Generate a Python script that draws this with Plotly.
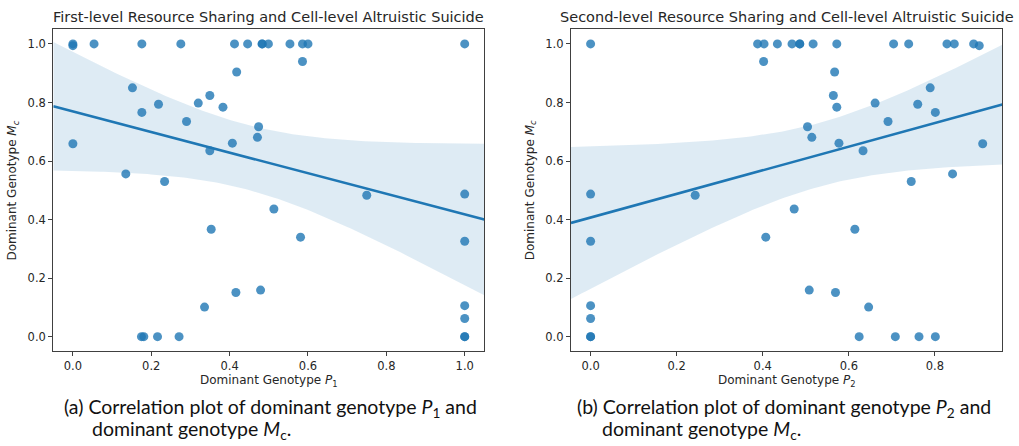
import numpy as np
import plotly.graph_objects as go

# Panel (a): dominant genotype P1 vs dominant genotype Mc
p1 = [0, 0, 0.054, 0.176, 0.2755, 0.4125, 0.446, 0.483, 0.483, 0.499, 0.554, 0.586, 0.600, 1.0,
      0.586, 0.418, 0.152, 0.176, 0.2185, 0.320, 0.3495, 0.383, 0.290, 0.474, 0.471, 0.407,
      0.3495, 0, 0.135, 0.234, 0.75, 1.0, 0.513, 0.353, 0.581, 1.0, 0.336, 0.416, 0.479,
      1.0, 1.0,
      0.175, 0.181, 0.216, 0.271, 1.0, 1.0]
mc1 = [1.0, 0.994, 1.0, 1.0, 1.0, 1.0, 1.0, 1.0, 1.0, 1.0, 1.0, 1.0, 1.0, 1.0,
       0.940, 0.904, 0.850, 0.766, 0.794, 0.798, 0.824, 0.784, 0.735, 0.717, 0.681, 0.661,
       0.635, 0.659, 0.556, 0.530, 0.483, 0.487, 0.436, 0.367, 0.340, 0.326, 0.101, 0.151, 0.159,
       0.106, 0.062,
       0, 0, 0, 0, 0, 0]

# Panel (b): dominant genotype P2 vs dominant genotype Mc
p2 = [0, 0.388, 0.403, 0.434, 0.468, 0.486, 0.486, 0.517, 0.572, 0.704, 0.739, 0.828, 0.845, 0.890, 0.903,
      0.402, 0.567, 0.789, 0.801, 0.760, 0.661, 0.564, 0.572, 0.691, 0.504, 0.514, 0.577,
      0.633, 0.911, 0.841, 0.745, 0.243, 0, 0.473, 0.614, 0.407, 0, 0.646, 0.569, 0.508,
      0, 0,
      0.624, 0.708, 0.763, 0.801, 0, 0]
mc2 = [1.0, 1.0, 1.0, 1.0, 1.0, 1.0, 1.0, 1.0, 1.0, 1.0, 1.0, 1.0, 1.0, 1.0, 0.994,
       0.940, 0.904, 0.850, 0.766, 0.794, 0.798, 0.824, 0.784, 0.735, 0.717, 0.681, 0.661,
       0.635, 0.659, 0.556, 0.530, 0.483, 0.487, 0.436, 0.367, 0.340, 0.326, 0.101, 0.151, 0.159,
       0.106, 0.062,
       0, 0, 0, 0, 0, 0]

titles = ["First-level Resource Sharing and Cell-level Altruistic Suicide",
          "Second-level Resource Sharing and Cell-level Altruistic Suicide"]
xlabels = ["Dominant Genotype <i>P</i><sub>1</sub>", "Dominant Genotype <i>P</i><sub>2</sub>"]
ylabel = "Dominant Genotype <i>M</i><sub><i>c</i></sub>"
caption_first = ["(a) Correlation plot of dominant genotype <i>P</i><sub>1</sub> and",
                 "(b) Correlation plot of dominant genotype <i>P</i><sub>2</sub> and"]
caption_second = "dominant genotype <i>M</i><sub>c</sub>."

BLUE = "#1f77b4"
TEXT = "#262626"
TICK_FONT = dict(family="DejaVu Sans", size=11.5, color=TEXT)

W, H = 1019, 446
# plot-area boxes in pixels: (left, right)
xboxes = [(53.3, 484.3), (571.0, 1002.3)]
ytop, ybot = 29.3, 351.3
caption_x = [(62, 90), (575, 600)]


def fit_band(x, y, lo, hi, n=120):
    x = np.asarray(x, float)
    y = np.asarray(y, float)
    b, a = np.polyfit(x, y, 1)
    grid = np.linspace(lo, hi, n)
    pred = a + b * grid
    resid = y - (a + b * x)
    dof = len(x) - 2
    s = np.sqrt(np.sum(resid ** 2) / dof)
    sxx = np.sum((x - x.mean()) ** 2)
    se = s * np.sqrt(1.0 / len(x) + (grid - x.mean()) ** 2 / sxx)
    tval = 2.1
    return grid, pred, pred - tval * se, pred + tval * se


def padded(vals):
    lo, hi = min(vals), max(vals)
    m = 0.05 * (hi - lo)
    return lo - m, hi + m


fig = go.Figure()
panels = [(p1, mc1), (p2, mc2)]
for i, (xs, ys) in enumerate(panels):
    xa = "x" if i == 0 else "x2"
    ya = "y" if i == 0 else "y2"
    xr = padded(xs)
    grid, pred, lower, upper = fit_band(xs, ys, xr[0], xr[1])
    fig.add_trace(go.Scatter(
        x=np.concatenate([grid, grid[::-1]]), y=np.concatenate([upper, lower[::-1]]),
        fill="toself", fillcolor="rgba(31,119,180,0.15)", line=dict(width=0),
        mode="lines", hoverinfo="skip", showlegend=False, xaxis=xa, yaxis=ya))
    fig.add_trace(go.Scatter(
        x=xs, y=ys, mode="markers",
        marker=dict(color=BLUE, size=9, opacity=0.8, line=dict(width=0)),
        showlegend=False, xaxis=xa, yaxis=ya))
    fig.add_trace(go.Scatter(
        x=grid, y=pred, mode="lines", line=dict(color=BLUE, width=2.6),
        showlegend=False, xaxis=xa, yaxis=ya))

    l, r = xboxes[i]
    axis_common = dict(showgrid=False, zeroline=False, showline=True, mirror=True,
                       linecolor="#404040", linewidth=1.2, ticks="outside", ticklen=4,
                       tickwidth=1, tickcolor="#404040", tickfont=TICK_FONT)
    xkey = "xaxis" if i == 0 else "xaxis2"
    ykey = "yaxis" if i == 0 else "yaxis2"
    xticks = [0, 0.2, 0.4, 0.6, 0.8, 1.0] if i == 0 else [0, 0.2, 0.4, 0.6, 0.8]
    fig.update_layout(**{
        xkey: dict(domain=[l / W, r / W], range=list(xr), tickvals=xticks,
                   ticktext=[f"{v:.1f}" for v in xticks],
                   anchor=ya, **axis_common),
        ykey: dict(domain=[1 - ybot / H, 1 - ytop / H], range=list(padded(ys)),
                   tickvals=[0, 0.2, 0.4, 0.6, 0.8, 1.0],
                   ticktext=["0.0", "0.2", "0.4", "0.6", "0.8", "1.0"],
                   anchor=xa, **axis_common),
    })

    cx = (l + r) / 2 / W
    fig.add_annotation(x=cx, y=1 - 17 / H, xref="paper", yref="paper", text=titles[i],
                       showarrow=False, font=dict(family="DejaVu Sans", size=14.5, color=TEXT),
                       xanchor="center", yanchor="middle")
    fig.add_annotation(x=cx, y=1 - 381 / H, xref="paper", yref="paper", text=xlabels[i],
                       showarrow=False, font=dict(family="DejaVu Sans", size=12, color=TEXT),
                       xanchor="center", yanchor="middle")
    fig.add_annotation(x=(l - 40) / W, y=1 - (ytop + ybot) / 2 / H, xref="paper", yref="paper",
                       text=ylabel, textangle=-90, showarrow=False,
                       font=dict(family="DejaVu Sans", size=12, color=TEXT),
                       xanchor="center", yanchor="middle")
    x1, x2 = caption_x[i]
    fig.add_annotation(x=x1 / W, y=1 - 408 / H, xref="paper", yref="paper",
                       text=caption_first[i], showarrow=False, align="left",
                       font=dict(family="Lato", size=19.5, color="#111111"),
                       xanchor="left", yanchor="middle")
    fig.add_annotation(x=x2 / W, y=1 - 430 / H, xref="paper", yref="paper",
                       text=caption_second, showarrow=False, align="left",
                       font=dict(family="Lato", size=19.5, color="#111111"),
                       xanchor="left", yanchor="middle")

fig.update_layout(width=W, height=H, margin=dict(l=0, r=0, t=0, b=0),
                  paper_bgcolor="white", plot_bgcolor="white")
fig.write_html("out.html")
